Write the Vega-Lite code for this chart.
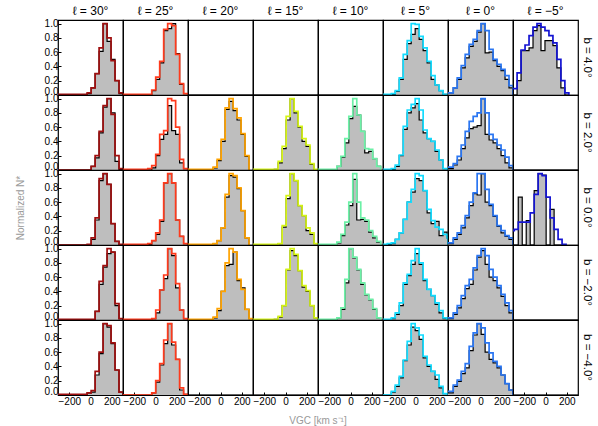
{
"$schema":"https://vega.github.io/schema/vega-lite/v6.json",
"padding":{"left":15,"top":5,"right":1,"bottom":1},
"data":{"values":[
{"l":"30","b":"4.0","v":-306,"d":0,"m":0.01},{"l":"30","b":"4.0","v":-31.5,"d":0.02,"m":0.03},{"l":"30","b":"4.0","v":6,"d":0.1,"m":0.1},{"l":"30","b":"4.0","v":43.5,"d":0.3,"m":0.3},{"l":"30","b":"4.0","v":81,"d":0.61,"m":0.66},{"l":"30","b":"4.0","v":118.5,"d":1,"m":1},{"l":"30","b":"4.0","v":156,"d":0.75,"m":0.8},{"l":"30","b":"4.0","v":193.5,"d":0.5,"m":0.48},{"l":"30","b":"4.0","v":231,"d":0.2,"m":0.2},{"l":"30","b":"4.0","v":268.5,"d":0.02,"m":0.03},{"l":"30","b":"4.0","v":306,"d":0,"m":0},
{"l":"30","b":"2.0","v":-306,"d":0,"m":0},{"l":"30","b":"2.0","v":6,"d":0.05,"m":0.05},{"l":"30","b":"2.0","v":43.5,"d":0.17,"m":0.2},{"l":"30","b":"2.0","v":81,"d":0.52,"m":0.54},{"l":"30","b":"2.0","v":118.5,"d":0.88,"m":0.9},{"l":"30","b":"2.0","v":156,"d":1,"m":1},{"l":"30","b":"2.0","v":193.5,"d":0.8,"m":0.78},{"l":"30","b":"2.0","v":231,"d":0.12,"m":0.2},{"l":"30","b":"2.0","v":268.5,"d":0.01,"m":0.02},{"l":"30","b":"2.0","v":306,"d":0,"m":0},
{"l":"30","b":"0.0","v":-306,"d":0,"m":0},{"l":"30","b":"0.0","v":-31.5,"d":0,"m":0.01},{"l":"30","b":"0.0","v":6,"d":0.08,"m":0.1},{"l":"30","b":"0.0","v":43.5,"d":0.35,"m":0.38},{"l":"30","b":"0.0","v":81,"d":0.9,"m":0.93},{"l":"30","b":"0.0","v":118.5,"d":1,"m":1},{"l":"30","b":"0.0","v":156,"d":0.85,"m":0.85},{"l":"30","b":"0.0","v":193.5,"d":0.3,"m":0.3},{"l":"30","b":"0.0","v":231,"d":0.05,"m":0.05},{"l":"30","b":"0.0","v":268.5,"d":0,"m":0.01},{"l":"30","b":"0.0","v":306,"d":0,"m":0},
{"l":"30","b":"-2.0","v":-306,"d":0,"m":0.01},{"l":"30","b":"-2.0","v":6,"d":0,"m":0.01},{"l":"30","b":"-2.0","v":43.5,"d":0.12,"m":0.12},{"l":"30","b":"-2.0","v":81,"d":0.5,"m":0.54},{"l":"30","b":"-2.0","v":118.5,"d":0.74,"m":0.76},{"l":"30","b":"-2.0","v":156,"d":0.93,"m":1},{"l":"30","b":"-2.0","v":193.5,"d":0.95,"m":0.95},{"l":"30","b":"-2.0","v":231,"d":0.2,"m":0.23},{"l":"30","b":"-2.0","v":268.5,"d":0.02,"m":0.02},{"l":"30","b":"-2.0","v":306,"d":0,"m":0},
{"l":"30","b":"-4.0","v":-306,"d":0,"m":0.01},{"l":"30","b":"-4.0","v":-31.5,"d":0.03,"m":0.03},{"l":"30","b":"-4.0","v":6,"d":0.04,"m":0.06},{"l":"30","b":"-4.0","v":43.5,"d":0.28,"m":0.33},{"l":"30","b":"-4.0","v":81,"d":0.58,"m":0.6},{"l":"30","b":"-4.0","v":118.5,"d":1,"m":1},{"l":"30","b":"-4.0","v":156,"d":0.95,"m":0.97},{"l":"30","b":"-4.0","v":193.5,"d":0.72,"m":0.73},{"l":"30","b":"-4.0","v":231,"d":0.35,"m":0.35},{"l":"30","b":"-4.0","v":268.5,"d":0.04,"m":0.04},{"l":"30","b":"-4.0","v":306,"d":0,"m":0},
{"l":"25","b":"4.0","v":-306,"d":0,"m":0.01},{"l":"25","b":"4.0","v":-35.5,"d":0.06,"m":0.07},{"l":"25","b":"4.0","v":2,"d":0.22,"m":0.25},{"l":"25","b":"4.0","v":39.5,"d":0.45,"m":0.47},{"l":"25","b":"4.0","v":77,"d":0.9,"m":0.92},{"l":"25","b":"4.0","v":114.5,"d":0.93,"m":1},{"l":"25","b":"4.0","v":152,"d":1,"m":0.97},{"l":"25","b":"4.0","v":189.5,"d":0.58,"m":0.57},{"l":"25","b":"4.0","v":227,"d":0.15,"m":0.16},{"l":"25","b":"4.0","v":264.5,"d":0.02,"m":0.02},{"l":"25","b":"4.0","v":302,"d":0,"m":0},
{"l":"25","b":"2.0","v":-306,"d":0,"m":0.01},{"l":"25","b":"2.0","v":-73,"d":0,"m":0.02},{"l":"25","b":"2.0","v":-35.5,"d":0.03,"m":0.06},{"l":"25","b":"2.0","v":2,"d":0.2,"m":0.22},{"l":"25","b":"2.0","v":39.5,"d":0.43,"m":0.5},{"l":"25","b":"2.0","v":77,"d":0.5,"m":0.55},{"l":"25","b":"2.0","v":114.5,"d":0.9,"m":1},{"l":"25","b":"2.0","v":152,"d":0.55,"m":0.97},{"l":"25","b":"2.0","v":189.5,"d":0.5,"m":0.6},{"l":"25","b":"2.0","v":227,"d":0.1,"m":0.15},{"l":"25","b":"2.0","v":264.5,"d":0.02,"m":0.02},{"l":"25","b":"2.0","v":302,"d":0,"m":0},
{"l":"25","b":"0.0","v":-306,"d":0,"m":0.01},{"l":"25","b":"0.0","v":-73,"d":0.01,"m":0.02},{"l":"25","b":"0.0","v":-35.5,"d":0.06,"m":0.06},{"l":"25","b":"0.0","v":2,"d":0.15,"m":0.17},{"l":"25","b":"0.0","v":39.5,"d":0.33,"m":0.35},{"l":"25","b":"0.0","v":77,"d":0.87,"m":0.87},{"l":"25","b":"0.0","v":114.5,"d":1,"m":1},{"l":"25","b":"0.0","v":152,"d":0.87,"m":0.87},{"l":"25","b":"0.0","v":189.5,"d":0.35,"m":0.35},{"l":"25","b":"0.0","v":227,"d":0.12,"m":0.12},{"l":"25","b":"0.0","v":264.5,"d":0.02,"m":0.02},{"l":"25","b":"0.0","v":302,"d":0,"m":0},
{"l":"25","b":"-2.0","v":-306,"d":0,"m":0.01},{"l":"25","b":"-2.0","v":-35.5,"d":0.02,"m":0.02},{"l":"25","b":"-2.0","v":2,"d":0.1,"m":0.14},{"l":"25","b":"-2.0","v":39.5,"d":0.42,"m":0.42},{"l":"25","b":"-2.0","v":77,"d":0.58,"m":0.63},{"l":"25","b":"-2.0","v":114.5,"d":1,"m":1},{"l":"25","b":"-2.0","v":152,"d":0.9,"m":0.93},{"l":"25","b":"-2.0","v":189.5,"d":0.45,"m":0.51},{"l":"25","b":"-2.0","v":227,"d":0.14,"m":0.14},{"l":"25","b":"-2.0","v":264.5,"d":0.02,"m":0.02},{"l":"25","b":"-2.0","v":302,"d":0,"m":0},
{"l":"25","b":"-4.0","v":-306,"d":0,"m":0},{"l":"25","b":"-4.0","v":-35.5,"d":0.03,"m":0.03},{"l":"25","b":"-4.0","v":2,"d":0.18,"m":0.2},{"l":"25","b":"-4.0","v":39.5,"d":0.42,"m":0.44},{"l":"25","b":"-4.0","v":77,"d":0.72,"m":0.77},{"l":"25","b":"-4.0","v":114.5,"d":1,"m":1},{"l":"25","b":"-4.0","v":152,"d":0.7,"m":0.74},{"l":"25","b":"-4.0","v":189.5,"d":0.5,"m":0.5},{"l":"25","b":"-4.0","v":227,"d":0.07,"m":0.1},{"l":"25","b":"-4.0","v":264.5,"d":0.01,"m":0.01},{"l":"25","b":"-4.0","v":302,"d":0,"m":0},
{"l":"20","b":"4.0","v":-306,"d":0,"m":null},{"l":"20","b":"4.0","v":306,"d":0,"m":null},
{"l":"20","b":"2.0","v":-306,"d":0,"m":0.01},{"l":"20","b":"2.0","v":-69,"d":0.03,"m":0.04},{"l":"20","b":"2.0","v":-31.5,"d":0.13,"m":0.15},{"l":"20","b":"2.0","v":6,"d":0.4,"m":0.43},{"l":"20","b":"2.0","v":43.5,"d":0.85,"m":0.87},{"l":"20","b":"2.0","v":81,"d":0.96,"m":1},{"l":"20","b":"2.0","v":118.5,"d":0.83,"m":0.86},{"l":"20","b":"2.0","v":156,"d":0.7,"m":0.73},{"l":"20","b":"2.0","v":193.5,"d":0.5,"m":0.51},{"l":"20","b":"2.0","v":231,"d":0.19,"m":0.2},{"l":"20","b":"2.0","v":268.5,"d":0,"m":0},
{"l":"20","b":"0.0","v":-306,"d":0,"m":0.01},{"l":"20","b":"0.0","v":-69,"d":0.02,"m":0.02},{"l":"20","b":"0.0","v":-31.5,"d":0.06,"m":0.06},{"l":"20","b":"0.0","v":6,"d":0.24,"m":0.24},{"l":"20","b":"0.0","v":43.5,"d":0.67,"m":0.71},{"l":"20","b":"0.0","v":81,"d":0.97,"m":1},{"l":"20","b":"0.0","v":118.5,"d":0.95,"m":0.97},{"l":"20","b":"0.0","v":156,"d":0.79,"m":0.8},{"l":"20","b":"0.0","v":193.5,"d":0.48,"m":0.48},{"l":"20","b":"0.0","v":231,"d":0.1,"m":0.1},{"l":"20","b":"0.0","v":268.5,"d":0,"m":0},
{"l":"20","b":"-2.0","v":-306,"d":0,"m":0.01},{"l":"20","b":"-2.0","v":-69,"d":0.03,"m":0.04},{"l":"20","b":"-2.0","v":-31.5,"d":0.13,"m":0.16},{"l":"20","b":"-2.0","v":6,"d":0.4,"m":0.4},{"l":"20","b":"-2.0","v":43.5,"d":0.76,"m":0.8},{"l":"20","b":"-2.0","v":81,"d":0.78,"m":1},{"l":"20","b":"-2.0","v":118.5,"d":0.95,"m":0.95},{"l":"20","b":"-2.0","v":156,"d":0.55,"m":0.57},{"l":"20","b":"-2.0","v":193.5,"d":0.45,"m":0.43},{"l":"20","b":"-2.0","v":231,"d":0.15,"m":0.15},{"l":"20","b":"-2.0","v":268.5,"d":0.02,"m":0.02},{"l":"20","b":"-2.0","v":306,"d":0,"m":0},
{"l":"20","b":"-4.0","v":-306,"d":0,"m":null},{"l":"20","b":"-4.0","v":306,"d":0,"m":null},
{"l":"15","b":"4.0","v":-306,"d":0,"m":null},{"l":"15","b":"4.0","v":306,"d":0,"m":null},
{"l":"15","b":"2.0","v":-306,"d":0,"m":0.01},{"l":"15","b":"2.0","v":-106.5,"d":0.01,"m":0.01},{"l":"15","b":"2.0","v":-69,"d":0.1,"m":0.12},{"l":"15","b":"2.0","v":-31.5,"d":0.3,"m":0.33},{"l":"15","b":"2.0","v":6,"d":0.7,"m":0.75},{"l":"15","b":"2.0","v":43.5,"d":1,"m":1},{"l":"15","b":"2.0","v":81,"d":0.8,"m":0.82},{"l":"15","b":"2.0","v":118.5,"d":0.6,"m":0.61},{"l":"15","b":"2.0","v":156,"d":0.4,"m":0.44},{"l":"15","b":"2.0","v":193.5,"d":0.33,"m":0.35},{"l":"15","b":"2.0","v":231,"d":0.08,"m":0.09},{"l":"15","b":"2.0","v":268.5,"d":0,"m":0.01},{"l":"15","b":"2.0","v":306,"d":0,"m":0},
{"l":"15","b":"0.0","v":-306,"d":0,"m":0.01},{"l":"15","b":"0.0","v":-69,"d":0.02,"m":0.02},{"l":"15","b":"0.0","v":-31.5,"d":0.25,"m":0.27},{"l":"15","b":"0.0","v":6,"d":0.65,"m":0.69},{"l":"15","b":"0.0","v":43.5,"d":1,"m":1},{"l":"15","b":"0.0","v":81,"d":0.9,"m":0.9},{"l":"15","b":"0.0","v":118.5,"d":0.55,"m":0.55},{"l":"15","b":"0.0","v":156,"d":0.41,"m":0.41},{"l":"15","b":"0.0","v":193.5,"d":0.2,"m":0.24},{"l":"15","b":"0.0","v":231,"d":0.15,"m":0.17},{"l":"15","b":"0.0","v":268.5,"d":0.02,"m":0.02},{"l":"15","b":"0.0","v":306,"d":0,"m":0},
{"l":"15","b":"-2.0","v":-306,"d":0,"m":0.01},{"l":"15","b":"-2.0","v":-106.5,"d":0.01,"m":0.01},{"l":"15","b":"-2.0","v":-69,"d":0.04,"m":0.05},{"l":"15","b":"-2.0","v":-31.5,"d":0.2,"m":0.2},{"l":"15","b":"-2.0","v":6,"d":0.7,"m":0.71},{"l":"15","b":"-2.0","v":43.5,"d":0.97,"m":1},{"l":"15","b":"-2.0","v":81,"d":0.9,"m":0.92},{"l":"15","b":"-2.0","v":118.5,"d":0.69,"m":0.69},{"l":"15","b":"-2.0","v":156,"d":0.46,"m":0.48},{"l":"15","b":"-2.0","v":193.5,"d":0.4,"m":0.41},{"l":"15","b":"-2.0","v":231,"d":0.2,"m":0.2},{"l":"15","b":"-2.0","v":268.5,"d":0.03,"m":0.03},{"l":"15","b":"-2.0","v":306,"d":0,"m":0},
{"l":"15","b":"-4.0","v":-306,"d":0,"m":null},{"l":"15","b":"-4.0","v":306,"d":0,"m":null},
{"l":"10","b":"4.0","v":-306,"d":0,"m":null},{"l":"10","b":"4.0","v":306,"d":0,"m":null},
{"l":"10","b":"2.0","v":-306,"d":0,"m":0.01},{"l":"10","b":"2.0","v":-128.5,"d":0.05,"m":0.05},{"l":"10","b":"2.0","v":-91,"d":0.18,"m":0.19},{"l":"10","b":"2.0","v":-53.5,"d":0.38,"m":0.44},{"l":"10","b":"2.0","v":-16,"d":0.72,"m":0.75},{"l":"10","b":"2.0","v":21.5,"d":0.89,"m":1},{"l":"10","b":"2.0","v":59,"d":0.77,"m":0.77},{"l":"10","b":"2.0","v":96.5,"d":0.54,"m":0.54},{"l":"10","b":"2.0","v":134,"d":0.24,"m":0.3},{"l":"10","b":"2.0","v":171.5,"d":0.26,"m":0.29},{"l":"10","b":"2.0","v":209,"d":0.16,"m":0.16},{"l":"10","b":"2.0","v":246.5,"d":0.05,"m":0.05},{"l":"10","b":"2.0","v":284,"d":0,"m":0},
{"l":"10","b":"0.0","v":-306,"d":0,"m":0.01},{"l":"10","b":"0.0","v":-128.5,"d":0.03,"m":0.04},{"l":"10","b":"0.0","v":-91,"d":0.13,"m":0.15},{"l":"10","b":"0.0","v":-53.5,"d":0.28,"m":0.32},{"l":"10","b":"0.0","v":-16,"d":0.55,"m":0.6},{"l":"10","b":"0.0","v":21.5,"d":0.92,"m":1},{"l":"10","b":"0.0","v":59,"d":0.35,"m":0.6},{"l":"10","b":"0.0","v":96.5,"d":0.36,"m":0.38},{"l":"10","b":"0.0","v":134,"d":0.33,"m":0.35},{"l":"10","b":"0.0","v":171.5,"d":0.18,"m":0.2},{"l":"10","b":"0.0","v":209,"d":0.1,"m":0.12},{"l":"10","b":"0.0","v":246.5,"d":0.04,"m":0.05},{"l":"10","b":"0.0","v":284,"d":0,"m":0},
{"l":"10","b":"-2.0","v":-306,"d":0,"m":0.01},{"l":"10","b":"-2.0","v":-128.5,"d":0.03,"m":0.03},{"l":"10","b":"-2.0","v":-91,"d":0.15,"m":0.17},{"l":"10","b":"-2.0","v":-53.5,"d":0.52,"m":0.57},{"l":"10","b":"-2.0","v":-16,"d":1,"m":1},{"l":"10","b":"-2.0","v":21.5,"d":0.87,"m":0.88},{"l":"10","b":"-2.0","v":59,"d":0.7,"m":0.71},{"l":"10","b":"-2.0","v":96.5,"d":0.5,"m":0.52},{"l":"10","b":"-2.0","v":134,"d":0.35,"m":0.36},{"l":"10","b":"-2.0","v":171.5,"d":0.28,"m":0.29},{"l":"10","b":"-2.0","v":209,"d":0.15,"m":0.16},{"l":"10","b":"-2.0","v":246.5,"d":0.03,"m":0.03},{"l":"10","b":"-2.0","v":284,"d":0,"m":0},
{"l":"10","b":"-4.0","v":-306,"d":0,"m":null},{"l":"10","b":"-4.0","v":306,"d":0,"m":null},
{"l":"5","b":"4.0","v":-306,"d":0,"m":0.01},{"l":"5","b":"4.0","v":-228,"d":0.01,"m":0.02},{"l":"5","b":"4.0","v":-190.5,"d":0.05,"m":0.06},{"l":"5","b":"4.0","v":-153,"d":0.22,"m":0.24},{"l":"5","b":"4.0","v":-115.5,"d":0.5,"m":0.57},{"l":"5","b":"4.0","v":-78,"d":0.72,"m":0.76},{"l":"5","b":"4.0","v":-40.5,"d":0.85,"m":1},{"l":"5","b":"4.0","v":-3,"d":0.93,"m":0.99},{"l":"5","b":"4.0","v":34.5,"d":0.78,"m":0.82},{"l":"5","b":"4.0","v":72,"d":0.62,"m":0.66},{"l":"5","b":"4.0","v":109.5,"d":0.45,"m":0.47},{"l":"5","b":"4.0","v":147,"d":0.22,"m":0.27},{"l":"5","b":"4.0","v":184.5,"d":0.14,"m":0.14},{"l":"5","b":"4.0","v":222,"d":0.06,"m":0.06},{"l":"5","b":"4.0","v":259.5,"d":0.01,"m":0.01},{"l":"5","b":"4.0","v":297,"d":0,"m":0},
{"l":"5","b":"2.0","v":-306,"d":0,"m":0.01},{"l":"5","b":"2.0","v":-228,"d":0.01,"m":0.02},{"l":"5","b":"2.0","v":-190.5,"d":0.05,"m":0.07},{"l":"5","b":"2.0","v":-153,"d":0.2,"m":0.21},{"l":"5","b":"2.0","v":-115.5,"d":0.57,"m":0.61},{"l":"5","b":"2.0","v":-78,"d":0.8,"m":0.84},{"l":"5","b":"2.0","v":-40.5,"d":0.87,"m":0.92},{"l":"5","b":"2.0","v":-3,"d":0.93,"m":1},{"l":"5","b":"2.0","v":34.5,"d":0.7,"m":0.84},{"l":"5","b":"2.0","v":72,"d":0.52,"m":0.56},{"l":"5","b":"2.0","v":109.5,"d":0.44,"m":0.44},{"l":"5","b":"2.0","v":147,"d":0.4,"m":0.4},{"l":"5","b":"2.0","v":184.5,"d":0.26,"m":0.28},{"l":"5","b":"2.0","v":222,"d":0.14,"m":0.14},{"l":"5","b":"2.0","v":259.5,"d":0.02,"m":0.02},{"l":"5","b":"2.0","v":297,"d":0,"m":0},
{"l":"5","b":"0.0","v":-306,"d":0,"m":0.01},{"l":"5","b":"0.0","v":-265.5,"d":0.01,"m":0.02},{"l":"5","b":"0.0","v":-228,"d":0.02,"m":0.03},{"l":"5","b":"0.0","v":-190.5,"d":0.08,"m":0.08},{"l":"5","b":"0.0","v":-153,"d":0.17,"m":0.17},{"l":"5","b":"0.0","v":-115.5,"d":0.36,"m":0.36},{"l":"5","b":"0.0","v":-78,"d":0.6,"m":0.6},{"l":"5","b":"0.0","v":-40.5,"d":0.74,"m":0.78},{"l":"5","b":"0.0","v":-3,"d":0.93,"m":1},{"l":"5","b":"0.0","v":34.5,"d":0.9,"m":0.97},{"l":"5","b":"0.0","v":72,"d":0.76,"m":0.76},{"l":"5","b":"0.0","v":109.5,"d":0.45,"m":0.5},{"l":"5","b":"0.0","v":147,"d":0.3,"m":0.34},{"l":"5","b":"0.0","v":184.5,"d":0.33,"m":0.25},{"l":"5","b":"0.0","v":222,"d":0.13,"m":0.22},{"l":"5","b":"0.0","v":259.5,"d":0.18,"m":0.15},{"l":"5","b":"0.0","v":297,"d":0.1,"m":0.1},{"l":"5","b":"0.0","v":306,"d":0,"m":0},
{"l":"5","b":"-2.0","v":-306,"d":0,"m":0.01},{"l":"5","b":"-2.0","v":-228,"d":0.02,"m":0.03},{"l":"5","b":"-2.0","v":-190.5,"d":0.08,"m":0.1},{"l":"5","b":"-2.0","v":-153,"d":0.2,"m":0.24},{"l":"5","b":"-2.0","v":-115.5,"d":0.5,"m":0.52},{"l":"5","b":"-2.0","v":-78,"d":0.62,"m":0.64},{"l":"5","b":"-2.0","v":-40.5,"d":0.78,"m":0.83},{"l":"5","b":"-2.0","v":-3,"d":0.93,"m":1},{"l":"5","b":"-2.0","v":34.5,"d":0.78,"m":0.8},{"l":"5","b":"-2.0","v":72,"d":0.55,"m":0.57},{"l":"5","b":"-2.0","v":109.5,"d":0.43,"m":0.43},{"l":"5","b":"-2.0","v":147,"d":0.34,"m":0.34},{"l":"5","b":"-2.0","v":184.5,"d":0.22,"m":0.24},{"l":"5","b":"-2.0","v":222,"d":0.1,"m":0.13},{"l":"5","b":"-2.0","v":259.5,"d":0.02,"m":0.03},{"l":"5","b":"-2.0","v":297,"d":0,"m":0},
{"l":"5","b":"-4.0","v":-306,"d":0,"m":0},{"l":"5","b":"-4.0","v":-228,"d":0.04,"m":0.05},{"l":"5","b":"-4.0","v":-190.5,"d":0.12,"m":0.14},{"l":"5","b":"-4.0","v":-153,"d":0.24,"m":0.26},{"l":"5","b":"-4.0","v":-115.5,"d":0.48,"m":0.49},{"l":"5","b":"-4.0","v":-78,"d":0.7,"m":0.75},{"l":"5","b":"-4.0","v":-40.5,"d":0.95,"m":1},{"l":"5","b":"-4.0","v":-3,"d":0.9,"m":0.94},{"l":"5","b":"-4.0","v":34.5,"d":0.78,"m":0.84},{"l":"5","b":"-4.0","v":72,"d":0.52,"m":0.54},{"l":"5","b":"-4.0","v":109.5,"d":0.4,"m":0.42},{"l":"5","b":"-4.0","v":147,"d":0.33,"m":0.33},{"l":"5","b":"-4.0","v":184.5,"d":0.22,"m":0.28},{"l":"5","b":"-4.0","v":222,"d":0.1,"m":0.12},{"l":"5","b":"-4.0","v":259.5,"d":0.02,"m":0.02},{"l":"5","b":"-4.0","v":297,"d":0,"m":0},
{"l":"0","b":"4.0","v":-306,"d":0.03,"m":0.03},{"l":"0","b":"4.0","v":-256.5,"d":0.1,"m":0.1},{"l":"0","b":"4.0","v":-219,"d":0.22,"m":0.24},{"l":"0","b":"4.0","v":-181.5,"d":0.38,"m":0.41},{"l":"0","b":"4.0","v":-144,"d":0.52,"m":0.57},{"l":"0","b":"4.0","v":-106.5,"d":0.68,"m":0.71},{"l":"0","b":"4.0","v":-69,"d":0.75,"m":0.78},{"l":"0","b":"4.0","v":-31.5,"d":0.88,"m":0.9},{"l":"0","b":"4.0","v":6,"d":1,"m":1},{"l":"0","b":"4.0","v":43.5,"d":0.59,"m":0.9},{"l":"0","b":"4.0","v":81,"d":0.6,"m":0.64},{"l":"0","b":"4.0","v":118.5,"d":0.48,"m":0.5},{"l":"0","b":"4.0","v":156,"d":0.4,"m":0.43},{"l":"0","b":"4.0","v":193.5,"d":0.34,"m":0.36},{"l":"0","b":"4.0","v":231,"d":0.22,"m":0.27},{"l":"0","b":"4.0","v":268.5,"d":0.1,"m":0.13},{"l":"0","b":"4.0","v":306,"d":0,"m":0},
{"l":"0","b":"2.0","v":-306,"d":0.02,"m":0.04},{"l":"0","b":"2.0","v":-256.5,"d":0.07,"m":0.09},{"l":"0","b":"2.0","v":-219,"d":0.14,"m":0.19},{"l":"0","b":"2.0","v":-181.5,"d":0.3,"m":0.35},{"l":"0","b":"2.0","v":-144,"d":0.45,"m":0.54},{"l":"0","b":"2.0","v":-106.5,"d":0.58,"m":0.68},{"l":"0","b":"2.0","v":-69,"d":0.6,"m":0.75},{"l":"0","b":"2.0","v":-31.5,"d":0.62,"m":0.8},{"l":"0","b":"2.0","v":6,"d":1,"m":1},{"l":"0","b":"2.0","v":43.5,"d":0.5,"m":0.8},{"l":"0","b":"2.0","v":81,"d":0.42,"m":0.5},{"l":"0","b":"2.0","v":118.5,"d":0.38,"m":0.43},{"l":"0","b":"2.0","v":156,"d":0.3,"m":0.35},{"l":"0","b":"2.0","v":193.5,"d":0.2,"m":0.28},{"l":"0","b":"2.0","v":231,"d":0.1,"m":0.18},{"l":"0","b":"2.0","v":268.5,"d":0.03,"m":0.06},{"l":"0","b":"2.0","v":306,"d":0,"m":0},
{"l":"0","b":"0.0","v":-306,"d":0.02,"m":0.03},{"l":"0","b":"0.0","v":-256.5,"d":0.08,"m":0.1},{"l":"0","b":"0.0","v":-219,"d":0.15,"m":0.17},{"l":"0","b":"0.0","v":-181.5,"d":0.24,"m":0.27},{"l":"0","b":"0.0","v":-144,"d":0.38,"m":0.41},{"l":"0","b":"0.0","v":-106.5,"d":0.55,"m":0.6},{"l":"0","b":"0.0","v":-69,"d":0.72,"m":0.73},{"l":"0","b":"0.0","v":-31.5,"d":0.7,"m":1},{"l":"0","b":"0.0","v":6,"d":1,"m":1},{"l":"0","b":"0.0","v":43.5,"d":0.6,"m":0.78},{"l":"0","b":"0.0","v":81,"d":0.55,"m":0.57},{"l":"0","b":"0.0","v":118.5,"d":0.4,"m":0.41},{"l":"0","b":"0.0","v":156,"d":0.26,"m":0.27},{"l":"0","b":"0.0","v":193.5,"d":0.17,"m":0.2},{"l":"0","b":"0.0","v":231,"d":0.12,"m":0.13},{"l":"0","b":"0.0","v":268.5,"d":0.08,"m":0.1},{"l":"0","b":"0.0","v":306,"d":0,"m":0},
{"l":"0","b":"-2.0","v":-306,"d":0.02,"m":0.03},{"l":"0","b":"-2.0","v":-256.5,"d":0.08,"m":0.1},{"l":"0","b":"-2.0","v":-219,"d":0.17,"m":0.2},{"l":"0","b":"-2.0","v":-181.5,"d":0.3,"m":0.34},{"l":"0","b":"-2.0","v":-144,"d":0.44,"m":0.48},{"l":"0","b":"-2.0","v":-106.5,"d":0.5,"m":0.57},{"l":"0","b":"-2.0","v":-69,"d":0.7,"m":0.73},{"l":"0","b":"-2.0","v":-31.5,"d":0.88,"m":0.9},{"l":"0","b":"-2.0","v":6,"d":0.97,"m":1},{"l":"0","b":"-2.0","v":43.5,"d":0.78,"m":0.9},{"l":"0","b":"-2.0","v":81,"d":0.6,"m":0.71},{"l":"0","b":"-2.0","v":118.5,"d":0.55,"m":0.6},{"l":"0","b":"-2.0","v":156,"d":0.45,"m":0.48},{"l":"0","b":"-2.0","v":193.5,"d":0.33,"m":0.36},{"l":"0","b":"-2.0","v":231,"d":0.2,"m":0.24},{"l":"0","b":"-2.0","v":268.5,"d":0.1,"m":0.13},{"l":"0","b":"-2.0","v":306,"d":0,"m":0},
{"l":"0","b":"-4.0","v":-306,"d":0.03,"m":0.05},{"l":"0","b":"-4.0","v":-256.5,"d":0.12,"m":0.14},{"l":"0","b":"-4.0","v":-219,"d":0.19,"m":0.21},{"l":"0","b":"-4.0","v":-181.5,"d":0.3,"m":0.33},{"l":"0","b":"-4.0","v":-144,"d":0.38,"m":0.44},{"l":"0","b":"-4.0","v":-106.5,"d":0.62,"m":0.68},{"l":"0","b":"-4.0","v":-69,"d":0.84,"m":0.87},{"l":"0","b":"-4.0","v":-31.5,"d":1,"m":1},{"l":"0","b":"-4.0","v":6,"d":0.85,"m":0.94},{"l":"0","b":"-4.0","v":43.5,"d":0.6,"m":0.73},{"l":"0","b":"-4.0","v":81,"d":0.5,"m":0.59},{"l":"0","b":"-4.0","v":118.5,"d":0.45,"m":0.47},{"l":"0","b":"-4.0","v":156,"d":0.38,"m":0.4},{"l":"0","b":"-4.0","v":193.5,"d":0.28,"m":0.28},{"l":"0","b":"-4.0","v":231,"d":0.16,"m":0.16},{"l":"0","b":"-4.0","v":268.5,"d":0.07,"m":0.07},{"l":"0","b":"-4.0","v":306,"d":0,"m":0},
{"l":"-5","b":"4.0","v":-306,"d":0,"m":0.09},{"l":"-5","b":"4.0","v":-267.5,"d":0.2,"m":0.31},{"l":"-5","b":"4.0","v":-230,"d":0.62,"m":0.63},{"l":"-5","b":"4.0","v":-192.5,"d":0.62,"m":0.7},{"l":"-5","b":"4.0","v":-155,"d":0.66,"m":0.83},{"l":"-5","b":"4.0","v":-117.5,"d":0.9,"m":0.95},{"l":"-5","b":"4.0","v":-80,"d":0.97,"m":1},{"l":"-5","b":"4.0","v":-42.5,"d":0.62,"m":0.95},{"l":"-5","b":"4.0","v":-5,"d":0.76,"m":0.9},{"l":"-5","b":"4.0","v":32.5,"d":0.76,"m":0.83},{"l":"-5","b":"4.0","v":70,"d":0.69,"m":0.73},{"l":"-5","b":"4.0","v":107.5,"d":0.38,"m":0.5},{"l":"-5","b":"4.0","v":145,"d":0.1,"m":0.2},{"l":"-5","b":"4.0","v":182.5,"d":0,"m":0.03},{"l":"-5","b":"4.0","v":220,"d":0,"m":0},
{"l":"-5","b":"2.0","v":-306,"d":0,"m":null},{"l":"-5","b":"2.0","v":306,"d":0,"m":null},
{"l":"-5","b":"0.0","v":-306,"d":0,"m":0.2},{"l":"-5","b":"0.0","v":-294,"d":0,"m":0.22},{"l":"-5","b":"0.0","v":-256.5,"d":0.67,"m":0.32},{"l":"-5","b":"0.0","v":-219,"d":0,"m":0.32},{"l":"-5","b":"0.0","v":-181.5,"d":0.34,"m":0.32},{"l":"-5","b":"0.0","v":-144,"d":0,"m":0.45},{"l":"-5","b":"0.0","v":-106.5,"d":0.76,"m":0.71},{"l":"-5","b":"0.0","v":-69,"d":1,"m":1},{"l":"-5","b":"0.0","v":-31.5,"d":0.98,"m":0.97},{"l":"-5","b":"0.0","v":6,"d":0,"m":0.67},{"l":"-5","b":"0.0","v":43.5,"d":0.5,"m":0.38},{"l":"-5","b":"0.0","v":81,"d":0,"m":0.22},{"l":"-5","b":"0.0","v":118.5,"d":0,"m":0.08},{"l":"-5","b":"0.0","v":156,"d":0,"m":0.01},{"l":"-5","b":"0.0","v":193.5,"d":0,"m":0},
{"l":"-5","b":"-2.0","v":-306,"d":0,"m":null},{"l":"-5","b":"-2.0","v":306,"d":0,"m":null},
{"l":"-5","b":"-4.0","v":-306,"d":0,"m":null},{"l":"-5","b":"-4.0","v":306,"d":0,"m":null}
]},
"facet":{
 "column":{"field":"l","type":"ordinal","sort":["30","25","20","15","10","5","0","-5"],
  "header":{"title":"VGC [km s⁻¹]","titleOrient":"bottom","labelOrient":"top","labelExpr":"'ℓ = ' + replace(datum.value, '-', '−') + '°'","labelFontSize":12,"labelFont":"Liberation Sans","labelColor":"#000","labelPadding":2,"titleFont":"Liberation Sans","titleFontSize":10,"titleFontWeight":"normal","titleColor":"#999999","titlePadding":0}},
 "row":{"field":"b","type":"ordinal","sort":["4.0","2.0","0.0","-2.0","-4.0"],
  "header":{"title":"Normalized N*","titleOrient":"left","labelOrient":"right","labelAngle":90,"labelExpr":"'b = ' + replace(datum.value, '-', '−') + '°'","labelFontSize":11.5,"labelFont":"Liberation Sans","labelColor":"#000","labelPadding":3,"titleFont":"Liberation Sans","titleFontSize":10,"titleFontWeight":"normal","titleColor":"#999999","titlePadding":8}}
},
"spacing":{"row":0,"column":0},
"bounds":"flush",
"spec":{
 "width":65,"height":75,
 "layer":[
  {"mark":{"type":"area","interpolate":"step-after","color":"#bebebe","clip":true},
   "encoding":{
    "x":{"field":"v","type":"quantitative","scale":{"domain":[-306,306],"nice":false},"axis":{"title":null,"values":[-200,0,200],"tickCount":20,"tickSize":-3,"labelPadding":4,"labelFontSize":10,"labelFont":"Liberation Sans","labelColor":"#000","labelOverlap":false,"labelFlush":false,"domain":false,"grid":false,"tickColor":"#000"}},
    "y":{"field":"d","type":"quantitative","scale":{"domain":[0,1.05],"nice":false},"axis":{"title":null,"values":[0,0.2,0.4,0.6,0.8,1.0],"tickCount":20,"format":".1f","tickSize":-3,"labelPadding":3,"labelFontSize":10,"labelFont":"Liberation Sans","labelColor":"#000","labelOverlap":false,"labelFlush":true,"labelFlushOffset":1.5,"domain":false,"grid":false,"tickColor":"#000"}}}},
  {"mark":{"type":"line","interpolate":"step-after","color":"#000","strokeWidth":1.2,"clip":true},
   "encoding":{"x":{"field":"v","type":"quantitative"},"y":{"field":"d","type":"quantitative"}}},
  {"mark":{"type":"line","interpolate":"step-after","strokeWidth":1.7,"clip":true},
   "encoding":{"x":{"field":"v","type":"quantitative"},"y":{"field":"m","type":"quantitative"},
    "color":{"field":"l","type":"nominal","scale":{"domain":["30","25","20","15","10","5","0","-5"],"range":["#a01010","#ff3a1c","#ffa300","#d6f516","#6cf0a6","#14dcff","#2a76f2","#1414d2"]},"legend":null}}}
 ]
},
"config":{"view":{"stroke":"#000","strokeWidth":1.2},"font":"Liberation Sans","axis":{"labelOverlap":false}}
}
